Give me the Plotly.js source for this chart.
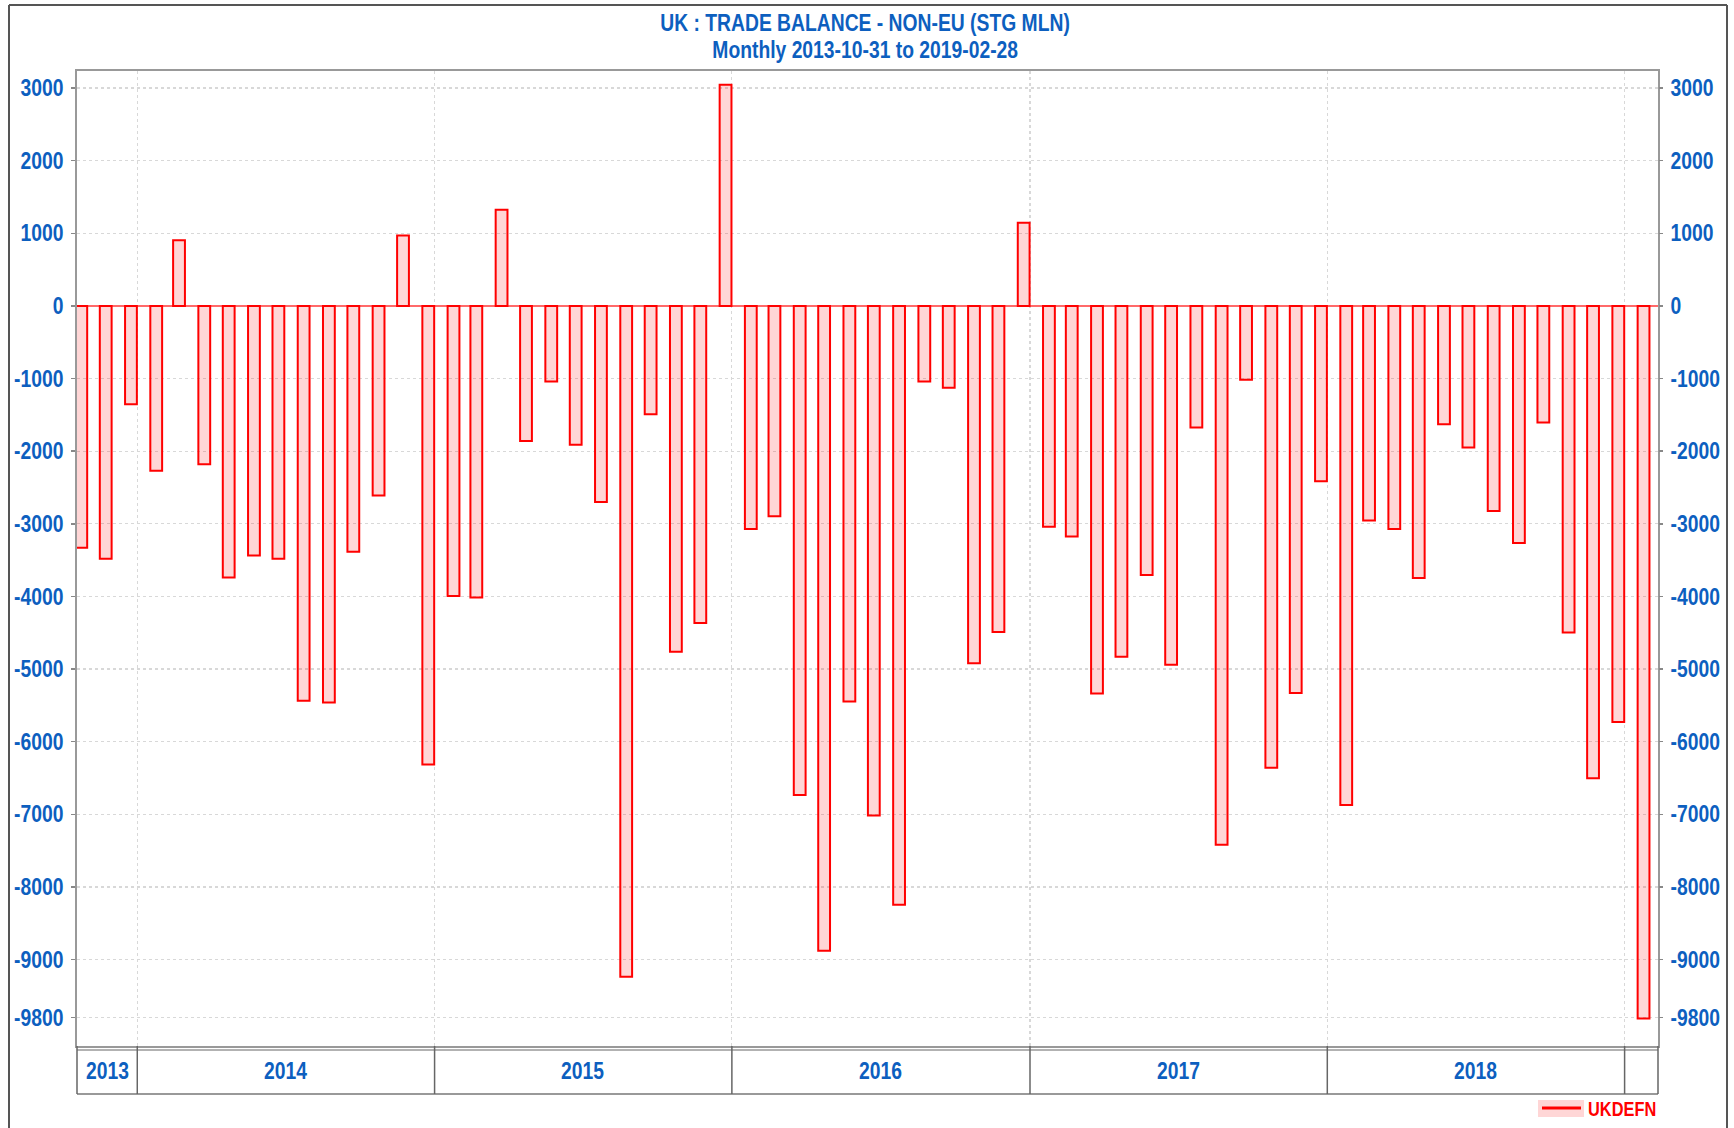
<!DOCTYPE html>
<html><head><meta charset="utf-8">
<script src="https://cdn.plot.ly/plotly-3.0.1.min.js"></script>
<style>html,body{margin:0;padding:0;background:#fff}#chart{width:1734px;height:1128px}</style>
</head><body><div id="chart"></div>
<script>
// ---- data ----
const months = [
 '2013-10-31','2013-11-30','2013-12-31',
 '2014-01-31','2014-02-28','2014-03-31','2014-04-30','2014-05-31','2014-06-30','2014-07-31','2014-08-31','2014-09-30','2014-10-31','2014-11-30','2014-12-31',
 '2015-01-31','2015-02-28','2015-03-31','2015-04-30','2015-05-31','2015-06-30','2015-07-31','2015-08-31','2015-09-30','2015-10-31','2015-11-30','2015-12-31',
 '2016-01-31','2016-02-29','2016-03-31','2016-04-30','2016-05-31','2016-06-30','2016-07-31','2016-08-31','2016-09-30','2016-10-31','2016-11-30','2016-12-31',
 '2017-01-31','2017-02-28','2017-03-31','2017-04-30','2017-05-31','2017-06-30','2017-07-31','2017-08-31','2017-09-30','2017-10-31','2017-11-30','2017-12-31',
 '2018-01-31','2018-02-28','2018-03-31','2018-04-30','2018-05-31','2018-06-30','2018-07-31','2018-08-31','2018-09-30','2018-10-31','2018-11-30','2018-12-31',
 '2019-01-31'
];
const tradeBalance = [
 -3330, -3480, -1355,
 -2270, 906, -2180, -3740, -3435, -3480, -5435, -5460, -3385, -2610, 970, -6315,
 -3995, -4015, 1325, -1860, -1040, -1910, -2700, -9235, -1490, -4760, -4365, 3045,
 -3070, -2895, -6735, -8880, -5445, -7015, -8245, -1040, -1125, -4920, -4490, 1145,
 -3040, -3175, -5335, -4830, -3705, -4940, -1675, -7418, -1015, -6360, -5330, -2415,
 -6870, -2955, -3070, -3745, -1630, -1950, -2825, -3265, -1605, -4495, -6505, -5730,
 -9810
];
const yearLabels = ['2013','2014','2015','2016','2017','2018','2019'];
const yTicks = [3000,2000,1000,0,-1000,-2000,-3000,-4000,-5000,-6000,-7000,-8000,-9000,-9800];
const seriesName = 'UKDEFN';
const titleMain = 'UK : TRADE BALANCE - NON-EU (STG MLN)';
const titleSub = 'Monthly 2013-10-31 to 2019-02-28';

// ---- layout helpers ----
const W = 1734, H = 1128;
const M = {l:77, r:76, t:71, b:82};
const PW = W - M.l - M.r, PH = H - M.t - M.b;
const px = x => (x - M.l) / PW;
const py = y => 1 - (y - M.t) / PH;
const xRange = ['2013-10-19', '2019-02-11'];
const yRange = [-10190, 3235];
const DAY = 86400000;
const FONT = "'Liberation Sans', Arial, sans-serif";
const NARROW = 0.84;   // horizontal squeeze to imitate a narrow typeface
const BLUE = '#0d5fbf';

const boundaries = yearLabels.slice(1).map(y => y + '-01-01');

const shapes = [];
const annotations = [];
// outer frame
shapes.push({type:'line', xref:'paper', yref:'paper', x0:px(9), x1:px(9), y0:py(5), y1:py(1130), line:{color:'#555', width:2}});
shapes.push({type:'line', xref:'paper', yref:'paper', x0:px(9), x1:px(1727), y0:py(5), y1:py(5), line:{color:'#555', width:2}});
shapes.push({type:'line', xref:'paper', yref:'paper', x0:px(1727), x1:px(1727), y0:py(5), y1:py(1130), line:{color:'#555', width:2}});
// year band
shapes.push({type:'line', xref:'paper', yref:'paper', x0:0, x1:1, y0:py(1050), y1:py(1050), line:{color:'#999', width:1.5}});
shapes.push({type:'line', xref:'paper', yref:'paper', x0:0, x1:1, y0:py(1094), y1:py(1094), line:{color:'#999', width:2}});
shapes.push({type:'line', xref:'paper', yref:'paper', x0:0, x1:0, y0:py(1046), y1:py(1094), line:{color:'#666', width:1.5}});
shapes.push({type:'line', xref:'paper', yref:'paper', x0:1, x1:1, y0:py(1046), y1:py(1094), line:{color:'#666', width:1.5}});
boundaries.forEach(b => {
  shapes.push({type:'line', xref:'x', yref:'paper', x0:b, x1:b, y0:py(1046), y1:py(1094), line:{color:'#666', width:1.5}});
});
// year labels centred in the visible part of each band
const t0 = Date.parse(xRange[0]), t1 = Date.parse(xRange[1]);
yearLabels.forEach(y => {
  const a = Math.max(Date.parse(y + '-01-01'), t0);
  const b = Math.min(Date.parse((+y + 1) + '-01-01'), t1);
  if (b - a < 60 * DAY) return;
  annotations.push({xref:'x', yref:'paper', x:new Date((a + b) / 2).toISOString().slice(0,10), y:py(1071),
    text:'<b>' + y + '</b>', showarrow:false, xanchor:'center', yanchor:'middle',
    font:{family:FONT, size:23, color:BLUE}});
});
// titles
annotations.push({xref:'paper', yref:'paper', x:px(865), y:py(23), text:'<b>' + titleMain + '</b>', showarrow:false,
  xanchor:'center', yanchor:'middle', font:{family:FONT, size:23, color:BLUE}});
annotations.push({xref:'paper', yref:'paper', x:px(865), y:py(50), text:'<b>' + titleSub + '</b>', showarrow:false,
  xanchor:'center', yanchor:'middle', font:{family:FONT, size:23, color:BLUE}});
// legend
shapes.push({type:'rect', xref:'paper', yref:'paper', x0:px(1538), x1:px(1584), y0:py(1100), y1:py(1117), fillcolor:'#ffd6d6', line:{width:0}});
shapes.push({type:'line', xref:'paper', yref:'paper', x0:px(1542), x1:px(1581), y0:py(1108), y1:py(1108), line:{color:'#ff0000', width:3}});
annotations.push({xref:'paper', yref:'paper', x:px(1586), y:py(1108.5), text:'<b>' + seriesName + '</b>', showarrow:false,
  xanchor:'left', yanchor:'middle', font:{family:FONT, size:19.5, color:'#ff0000'}});

const traces = [
  {type:'bar', x:months, y:tradeBalance, name:seriesName,
   width:14.5 * DAY, offset:-14 * DAY,
   marker:{color:'rgba(255,0,0,0.16)', line:{color:'#ff0000', width:2}},
   showlegend:false, hoverinfo:'x+y'},
  {type:'scatter', x:[months[0]], y:[0], yaxis:'y2', mode:'markers', marker:{opacity:0}, hoverinfo:'skip', showlegend:false}
];

const yCommon = {
  range:yRange, tickmode:'array', tickvals:yTicks, ticktext:yTicks.map(String),
  tickfont:{family:FONT, size:23, color:BLUE, weight:'bold'},
  ticks:'outside', ticklen:4, tickcolor:'#888', tickwidth:1.5
};

const layout = {
  width:W, height:H, margin:M, paper_bgcolor:'#fff', plot_bgcolor:'#fff',
  showlegend:false, bargap:0,
  xaxis:{type:'date', range:xRange, tickmode:'array', tickvals:boundaries, showticklabels:false, ticks:'',
    showgrid:true, gridcolor:'#d8d8d8', griddash:'dot', gridwidth:1.2,
    showline:true, mirror:true, linecolor:'#999', linewidth:2, zeroline:false},
  yaxis:Object.assign({}, yCommon, {side:'left', showgrid:true, gridcolor:'#d8d8d8', griddash:'dot', gridwidth:1.2,
    zeroline:true, zerolinecolor:'#ff6a6a', zerolinewidth:2,
    showline:true, mirror:true, linecolor:'#999', linewidth:2, ticklabelstandoff:3}),
  yaxis2:Object.assign({}, yCommon, {overlaying:'y', side:'right', showgrid:false, zeroline:false, showline:false, ticklabelstandoff:3}),
  shapes:shapes, annotations:annotations
};

Plotly.newPlot('chart', traces, layout, {displayModeBar:false, staticPlot:true}).then(gd => {
  // squeeze every text horizontally about its anchor edge (narrow typeface look)
  gd.querySelectorAll('text').forEach(t => {
    if (!t.textContent.trim()) return;
    const bb = t.getBBox();
    let anchor = t.getAttribute('text-anchor') || 'start';
    if (t.textContent === seriesName) anchor = 'start';
    const ax = anchor === 'end' ? bb.x + bb.width : anchor === 'middle' ? bb.x + bb.width / 2 : bb.x;
    const tr = t.getAttribute('transform') || '';
    t.setAttribute('transform', tr + ' translate(' + ax + ',0) scale(' + NARROW + ',1) translate(' + (-ax) + ',0)');
  });
});
</script>
</body></html>
